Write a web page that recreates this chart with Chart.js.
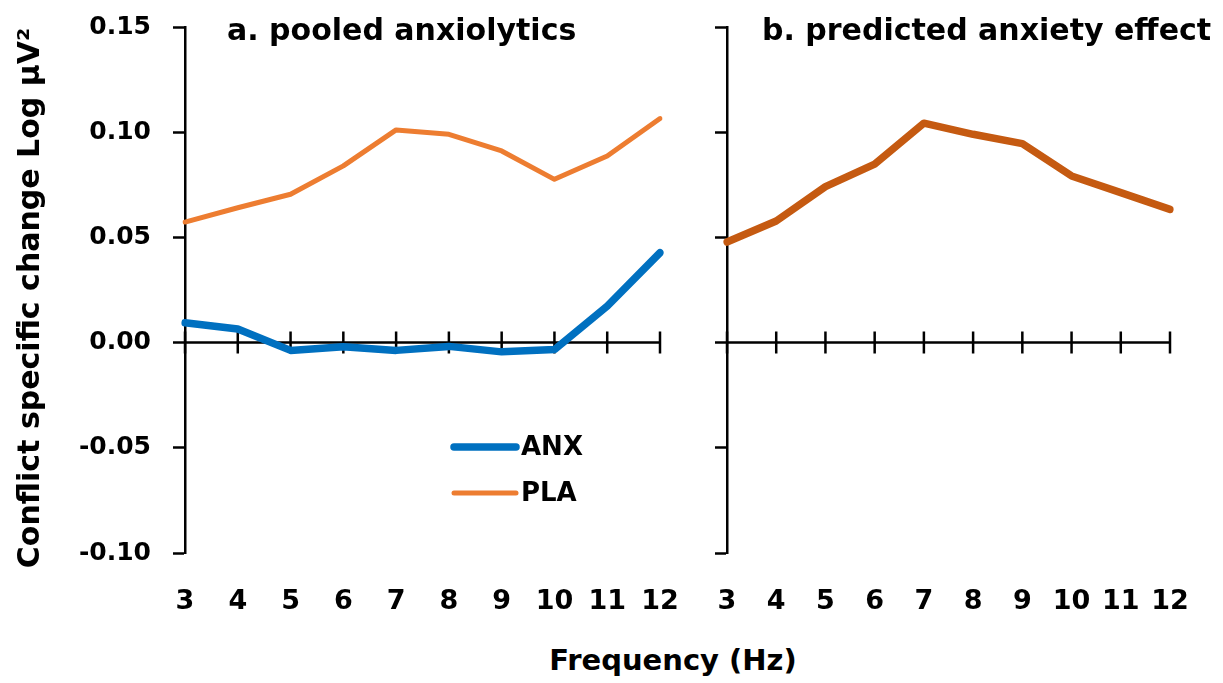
<!DOCTYPE html>
<html>
<head>
<meta charset="utf-8">
<script src="https://cdn.jsdelivr.net/npm/chart.js@4"></script>
<style>
    body { margin: 0; background: #fff; }
    #page { position: relative; width: 1223px; height: 683px; overflow: hidden; }
    .panel { position: absolute; top: 0; height: 620px; }
    #panelA { left: 0; width: 700px; }
    #panelB { left: 690px; width: 533px; }
    #xTitle {
        position: absolute; left: 0; width: 1346px; top: 643px;
        text-align: center; font: bold 29px "DejaVu Sans"; color: #000;
    }
</style>
</head>
<body>
<div id="page">
    <div class="panel" id="panelA"><canvas id="chartA"></canvas></div>
    <div class="panel" id="panelB"><canvas id="chartB"></canvas></div>
    <div id="xTitle">Frequency (Hz)</div>
</div>
<script>
// datos
const freqLabels = ["3", "4", "5", "6", "7", "8", "9", "10", "11", "12"];
const anxValues = [0.0094, 0.0065, -0.0037, -0.0020, -0.0037, -0.0018, -0.0044, -0.0033, 0.0173, 0.0427];
const plaValues = [0.0573, 0.0641, 0.0705, 0.0840, 0.1011, 0.0990, 0.0911, 0.0776, 0.0887, 0.1065];
const effectValues = [0.0478, 0.0578, 0.0741, 0.0848, 0.1043, 0.0990, 0.0946, 0.0792, 0.0713, 0.0633];
const yMin = -0.10;
const yMax = 0.15;
const yStep = 0.05;
const yTitle = "Conflict specific change Log \u00b5V\u00b2";

Chart.defaults.font.family = "DejaVu Sans";
Chart.defaults.font.weight = "bold";
Chart.defaults.color = "#000";

// eje x en cero con marcas que lo cruzan
const zeroAxis = {
    id: "zeroAxis",
    beforeDatasetsDraw(chart) {
        let ctx = chart.ctx;
        let x = chart.scales.x;
        let y0 = chart.scales.y.getPixelForValue(0);
        ctx.save();
        ctx.strokeStyle = "#000";
        ctx.lineWidth = 2.5;
        ctx.beginPath();
        ctx.moveTo(chart.chartArea.left, y0);
        ctx.lineTo(chart.chartArea.right, y0);
        for (let i = 0; i < chart.data.labels.length; i++) {
            let px = x.getPixelForValue(i);
            ctx.moveTo(px, y0 - 11);
            ctx.lineTo(px, y0 + 11);
        }
        ctx.stroke();
        ctx.restore();
    }
};

// titulo del panel, titulo del eje y y leyenda dentro del area
const panelText = {
    id: "panelText",
    afterDraw(chart, args, opts) {
        let ctx = chart.ctx;
        ctx.save();
        ctx.fillStyle = "#000";
        ctx.textBaseline = "alphabetic";
        ctx.font = "bold 30px 'DejaVu Sans'";
        ctx.fillText(opts.title, opts.titleX, opts.titleY);
        if (opts.yTitle) {
            ctx.save();
            ctx.translate(opts.yTitleX, opts.yTitleY);
            ctx.rotate(-Math.PI / 2);
            ctx.textAlign = "center";
            ctx.textBaseline = "middle";
            ctx.fillText(opts.yTitle, 0, 0);
            ctx.restore();
        }
        if (opts.legend) {
            ctx.font = "bold 26px 'DejaVu Sans'";
            ctx.textBaseline = "middle";
            chart.data.datasets.forEach(function (ds, i) {
                let ly = opts.legendY + i * opts.legendGap;
                ctx.strokeStyle = ds.borderColor;
                ctx.lineWidth = ds.borderWidth;
                ctx.lineCap = "round";
                ctx.beginPath();
                ctx.moveTo(opts.legendX, ly);
                ctx.lineTo(opts.legendX + 62, ly);
                ctx.stroke();
                ctx.fillText(ds.label, opts.legendX + 67, ly + 1);
            });
        }
        ctx.restore();
    }
};

function crearPanel(canvasId, datasets, conf) {
    let ctx = document.getElementById(canvasId).getContext("2d");
    return new Chart(ctx, {
        type: "line",
        data: { labels: freqLabels, datasets: datasets },
        options: {
            responsive: true,
            maintainAspectRatio: false,
            animation: false,
            layout: { padding: { left: 0, top: 27, right: conf.padRight, bottom: 7 } },
            elements: {
                point: { radius: 0 },
                line: { tension: 0, borderCapStyle: "round", borderJoinStyle: "round" }
            },
            plugins: {
                legend: { display: false },
                tooltip: { enabled: false },
                panelText: conf.text
            },
            scales: {
                x: {
                    type: "category",
                    offset: false,
                    grid: { display: false },
                    border: { display: false },
                    ticks: { font: { size: 27, weight: "bold" }, padding: 25, maxRotation: 0, autoSkip: false },
                    afterFit: function (scale) {
                        scale.height = 60;
                        scale.paddingLeft = 0;
                        scale.paddingRight = 0;
                    }
                },
                y: {
                    min: yMin,
                    max: yMax,
                    grid: {
                        drawOnChartArea: false,
                        drawTicks: true,
                        tickLength: 12,
                        tickColor: "#000",
                        tickWidth: 2.5
                    },
                    border: { display: true, color: "#000", width: 2.5 },
                    ticks: {
                        display: conf.showYLabels,
                        stepSize: yStep,
                        padding: 22,
                        font: { size: 25, weight: "bold" },
                        callback: function (v) { return v.toFixed(2); }
                    },
                    afterFit: function (scale) {
                        scale.width = conf.yWidth;
                        scale.paddingTop = 0;
                        scale.paddingBottom = 0;
                    }
                }
            }
        },
        plugins: [zeroAxis, panelText]
    });
}

crearPanel("chartA", [
    { label: "ANX", data: anxValues, borderColor: "#0070C0", borderWidth: 7.5 },
    { label: "PLA", data: plaValues, borderColor: "#ED7D31", borderWidth: 5 }
], {
    padRight: 40,
    yWidth: 185,
    showYLabels: true,
    text: {
        title: "a. pooled anxiolytics", titleX: 227, titleY: 40,
        yTitle: yTitle, yTitleX: 31, yTitleY: 298,
        legend: true, legendX: 454, legendY: 447, legendGap: 46
    }
});

crearPanel("chartB", [
    { label: "predicted anxiety effect", data: effectValues, borderColor: "#C55A11", borderWidth: 7.5 }
], {
    padRight: 53,
    yWidth: 37,
    showYLabels: false,
    text: { title: "b. predicted anxiety effect", titleX: 72, titleY: 40, legend: false }
});
</script>
</body>
</html>
